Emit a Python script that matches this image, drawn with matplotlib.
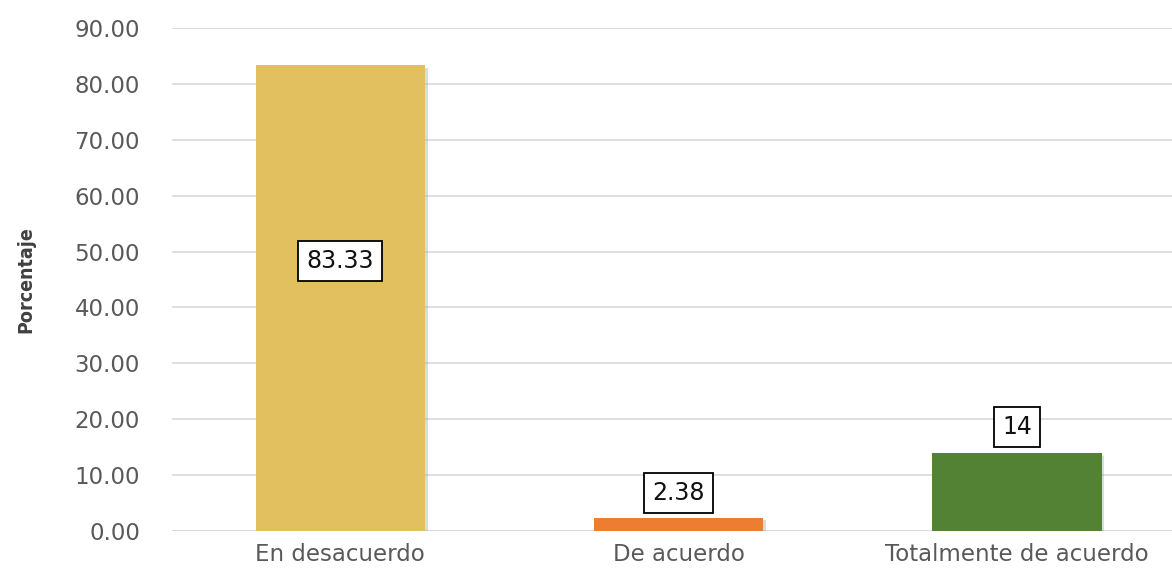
import matplotlib
matplotlib.use("Agg")
import matplotlib.pyplot as plt
import matplotlib.patheffects as pe

categories = ["En desacuerdo", "De acuerdo", "Totalmente de acuerdo"]
values = [83.33, 2.38, 14]
labels = ["83.33", "2.38", "14"]
label_pos = [48.3, 6.8, 18.6]
colors = ["#E3C05F", "#ED7D31", "#548235"]
yticks = [0, 10, 20, 30, 40, 50, 60, 70, 80, 90]

fig = plt.figure(figsize=(11.72, 5.71), dpi=100)
ax = fig.add_axes([0.1468, 0.0701, 0.8532, 0.8809])
x = list(range(len(categories)))
bars = ax.bar(x, values, width=0.5, color=colors, zorder=3)
for b in bars:
    b.set_path_effects([pe.SimplePatchShadow(offset=(2, -2), shadow_rgbFace="#999999", alpha=0.35), pe.Normal()])

for xi, lab, yp in zip(x, labels, label_pos):
    ax.text(xi, yp, lab, ha="center", va="center", fontsize=17, color="#111111", zorder=5,
            bbox=dict(boxstyle="square,pad=0.35", fc="white", ec="black", lw=1.3))

ax.set_xlim(-0.497, 2.458)
ax.set_ylim(0, 90)
ax.set_yticks(yticks)
ax.set_yticklabels([f"{v:.2f}" for v in yticks])
ax.set_xticks(x)
ax.set_xticklabels(categories)
ax.tick_params(axis="both", length=0, labelsize=16.5, labelcolor="#595959")
ax.tick_params(axis="y", pad=23)
ax.tick_params(axis="x", pad=9)
ax.yaxis.grid(True, color="#D9D9D9", lw=1.2, zorder=0)
for s in ax.spines.values():
    s.set_visible(False)
ax.axhline(0, color="#D9D9D9", lw=1.2, zorder=1)

fig.text(0.022, 0.51, "Porcentaje", rotation=90, ha="center", va="center",
         fontsize=14, fontweight="bold", fontstretch="condensed", color="#404040")

fig.savefig("out.png", dpi=100)
